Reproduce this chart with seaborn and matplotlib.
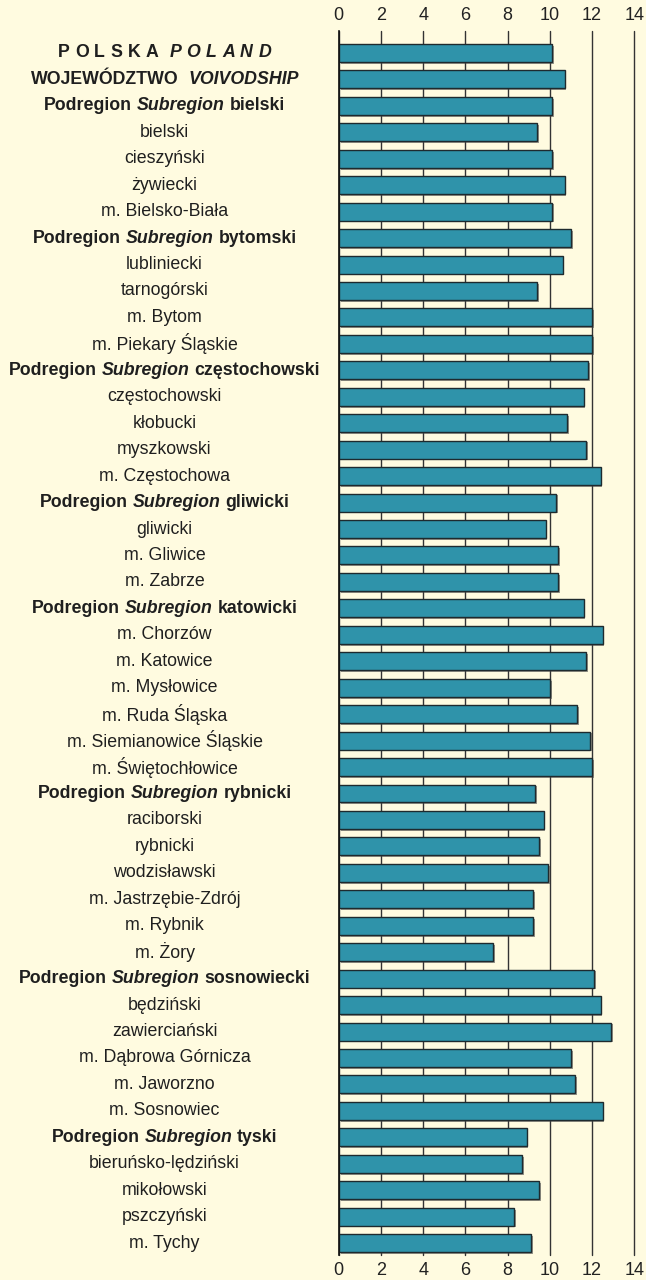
import matplotlib
matplotlib.use("Agg")
import matplotlib.pyplot as plt
import matplotlib.patheffects as pe
import matplotlib.transforms as mtransforms
import pandas as pd
import seaborn as sns

# etykiety wierszy (naglowki podregionow oznaczone osobno)
labels = [
    "POLSKA POLAND", "WOJEWÓDZTWO VOIVODSHIP",
    "Podregion Subregion bielski", "bielski", "cieszyński", "żywiecki", "m. Bielsko-Biała",
    "Podregion Subregion bytomski", "lubliniecki", "tarnogórski", "m. Bytom", "m. Piekary Śląskie",
    "Podregion Subregion częstochowski", "częstochowski", "kłobucki", "myszkowski", "m. Częstochowa",
    "Podregion Subregion gliwicki", "gliwicki", "m. Gliwice", "m. Zabrze",
    "Podregion Subregion katowicki", "m. Chorzów", "m. Katowice", "m. Mysłowice", "m. Ruda Śląska",
    "m. Siemianowice Śląskie", "m. Świętochłowice",
    "Podregion Subregion rybnicki", "raciborski", "rybnicki", "wodzisławski", "m. Jastrzębie-Zdrój",
    "m. Rybnik", "m. Żory",
    "Podregion Subregion sosnowiecki", "będziński", "zawierciański", "m. Dąbrowa Górnicza",
    "m. Jaworzno", "m. Sosnowiec",
    "Podregion Subregion tyski", "bieruńsko-lędziński", "mikołowski", "pszczyński", "m. Tychy",
]
values = [
    10.1, 10.7,
    10.1, 9.4, 10.1, 10.7, 10.1,
    11.0, 10.6, 9.4, 12.0, 12.0,
    11.8, 11.6, 10.8, 11.7, 12.4,
    10.3, 9.8, 10.4, 10.4,
    11.6, 12.5, 11.7, 10.0, 11.3, 11.9, 12.0,
    9.3, 9.7, 9.5, 9.9, 9.2, 9.2, 7.3,
    12.1, 12.4, 12.9, 11.0, 11.2, 12.5,
    8.9, 8.7, 9.5, 8.3, 9.1,
]
xticks = [0, 2, 4, 6, 8, 10, 12, 14]

BG = "#fffbe0"
BAR = "#2f93aa"
FS = 12.8
TXT = "#1f1f1f"

sns.set_style("white")
plt.rcParams["font.family"] = ["Liberation Sans", "DejaVu Sans"]

df = pd.DataFrame({"label": labels, "value": values})

fig = plt.figure(figsize=(6.46, 12.8), dpi=100, facecolor=BG)
ax = fig.add_axes([0.5243, 0.0195, 0.4576, 0.9563])
ax.set_facecolor(BG)

sns.barplot(data=df, x="value", y="label", orient="h", color=BAR, saturation=1,
            width=0.68, edgecolor="#1e2a2e", linewidth=1, ax=ax, zorder=3)
for p in ax.patches:
    p.set_path_effects([pe.SimplePatchShadow(offset=(1.3, -1.3), shadow_rgbFace="#444", alpha=0.55),
                        pe.Normal()])

ax.set_xlim(0, 14)
ax.set_ylim(len(labels) - 1 + 0.45, -0.83)
ax.set_xticks(xticks)
ax.set_xticklabels([str(t) for t in xticks])
ax.set_yticks([])
ax.set_xlabel("")
ax.set_ylabel("")
ax.tick_params(axis="x", top=True, labeltop=True, bottom=True, labelbottom=True,
               length=0, pad=5, labelsize=13, colors="#222")
ax.set_axisbelow(True)
ax.grid(axis="x", color="#333", linewidth=1)
ax.grid(axis="y", visible=False)
for line in ax.get_xgridlines():
    line.set_clip_on(False)
for s in ["top", "right", "bottom"]:
    ax.spines[s].set_visible(False)
ax.spines["left"].set_color("#111")
ax.spines["left"].set_linewidth(1.2)
ax.spines["left"].set_zorder(4)

# etykiety po lewej, wysrodkowane w kolumnie
renderer = fig.canvas.get_renderer()
base = ax.get_yaxis_transform()
XC = -0.589


def space_width():
    sp = ax.text(0, 0, "a a", fontsize=FS, fontweight="bold", transform=base)
    sa = ax.text(0, 0, "aa", fontsize=FS, fontweight="bold", transform=base)
    w = sp.get_window_extent(renderer).width - sa.get_window_extent(renderer).width
    sp.remove()
    sa.remove()
    return w


SPACE = space_width()


def mixed_label(y, parts, gaps):
    texts = []
    for s, style in parts:
        t = ax.text(XC, y, s, ha="left", va="center", fontsize=FS, fontweight="bold",
                    fontstyle=style, color=TXT, transform=base, clip_on=False)
        texts.append(t)
    widths = [t.get_window_extent(renderer).width for t in texts]
    total = sum(widths) + sum(gaps)
    x = -total / 2
    for k, (t, w) in enumerate(zip(texts, widths)):
        t.set_transform(mtransforms.offset_copy(base, fig=fig, x=x, y=0, units="dots"))
        x += w + (gaps[k] if k < len(gaps) else 0)


for i, lab in enumerate(labels):
    if i == 0:
        parts = [(c, "normal") for c in "POLSKA"] + [(c, "italic") for c in "POLAND"]
        gaps = [5.4] * 5 + [10.5] + [5.4] * 5
        mixed_label(i, parts, gaps)
    elif i == 1:
        mixed_label(i, [("WOJEWÓDZTWO", "normal"), ("VOIVODSHIP", "italic")], [SPACE * 2])
    elif lab.startswith("Podregion Subregion "):
        name = lab.replace("Podregion Subregion ", "")
        mixed_label(i, [("Podregion", "normal"), ("Subregion", "italic"), (name, "normal")],
                    [SPACE, SPACE])
    else:
        ax.text(XC, i, lab, ha="center", va="center", fontsize=FS, color=TXT,
                transform=base, clip_on=False)

fig.savefig("out.png", dpi=100, facecolor=BG)
